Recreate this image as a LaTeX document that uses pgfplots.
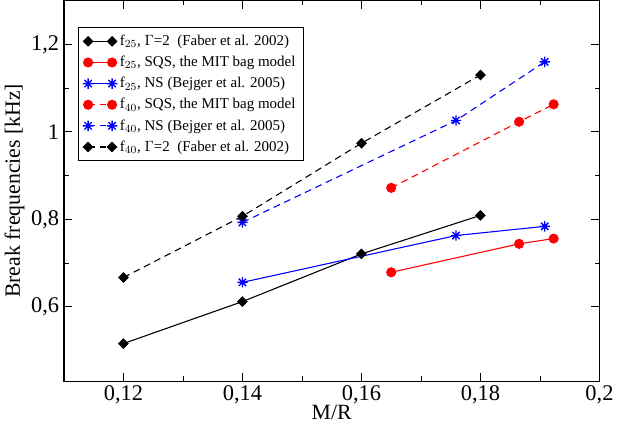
\documentclass[border=0pt]{standalone}
\usepackage{fontspec}
\setmainfont{Liberation Serif}
\usepackage{pgfplots}
\pgfplotsset{compat=1.18}

% eight-armed star for the NS series
\pgfdeclareplotmark{star8}{%
  \pgfpathmoveto{\pgfqpoint{0pt}{\pgfplotmarksize}}%
  \pgfpathlineto{\pgfqpoint{0pt}{-\pgfplotmarksize}}%
  \pgfpathmoveto{\pgfqpoint{\pgfplotmarksize}{0pt}}%
  \pgfpathlineto{\pgfqpoint{-\pgfplotmarksize}{0pt}}%
  \pgfpathmoveto{\pgfqpoint{0.707\pgfplotmarksize}{0.707\pgfplotmarksize}}%
  \pgfpathlineto{\pgfqpoint{-0.707\pgfplotmarksize}{-0.707\pgfplotmarksize}}%
  \pgfpathmoveto{\pgfqpoint{-0.707\pgfplotmarksize}{0.707\pgfplotmarksize}}%
  \pgfpathlineto{\pgfqpoint{0.707\pgfplotmarksize}{-0.707\pgfplotmarksize}}%
  \pgfusepathqstroke}

\begin{document}
\begin{tikzpicture}
  \begin{axis}[
      scale only axis,
      width=394pt, height=280pt,
      xmin=0.11, xmax=0.2,
      ymin=0.43, ymax=1.3,
      xtick={0.12,0.14,0.16,0.18,0.2},
      ytick={0.6,0.8,1,1.2},
      minor tick num=1,
      tick align=inside,
      major tick length=6pt, minor tick length=3.5pt,
      xticklabel style={/pgf/number format/.cd, use comma, fixed, precision=2},
      yticklabel style={/pgf/number format/.cd, use comma, fixed, precision=1},
      /pgf/number format/assume math mode=true,
      tick label style={font=\fontsize{16.5}{18}\selectfont},
      xlabel={M/R},
      ylabel={Break frequencies [kHz]},
      label style={font=\fontsize{16}{18}\selectfont},
      xlabel style={yshift=6pt},
      ylabel style={yshift=-2pt},
      axis line style={line width=0.9pt},
      every tick/.style={black, line width=0.6pt},
      legend cell align=left,
      legend style={at={(0.026,0.93)}, anchor=north west,
        font=\fontsize{11}{13}\selectfont, draw=black, line width=0.5pt,
        row sep=2.3pt, inner sep=3.5pt},
      legend image code/.code={\draw[#1] plot coordinates {(0cm,0cm) (0.62cm,0cm)};},
      diam/.style={mark=square*, mark size=2.4pt, mark options={rotate=45, solid}},
      circ/.style={mark=*, mark size=3.3pt, mark options={solid}},
      star/.style={mark=star8, mark size=3.8pt, mark options={solid, line width=1pt}},
      dashy/.style={dash pattern=on 5pt off 3.5pt},
    ]
    % f25, Faber
    \addplot[black, line width=0.8pt, diam] coordinates {
      (0.12,0.516) (0.14,0.612) (0.16,0.721) (0.18,0.809)};
    \addlegendentry{f$_{25}$, $\Gamma$=2\ \ (Faber et al. 2002)}
    % f25, SQS
    \addplot[red, line width=0.8pt, circ] coordinates {
      (0.165,0.679) (0.1865,0.744) (0.1923,0.756)};
    \addlegendentry{f$_{25}$, SQS, the MIT bag model}
    % f25, NS
    \addplot[blue, line width=0.8pt, star] coordinates {
      (0.14,0.656) (0.1759,0.763) (0.1908,0.784)};
    \addlegendentry{f$_{25}$, NS (Bejger et al. 2005)}
    % f40, SQS
    \addplot[red, line width=0.8pt, dashy, circ] coordinates {
      (0.165,0.872) (0.1865,1.023) (0.1923,1.063)};
    \addlegendentry{f$_{40}$, SQS, the MIT bag model}
    % f40, NS
    \addplot[blue, line width=0.8pt, dashy, star] coordinates {
      (0.14,0.793) (0.1759,1.026) (0.1908,1.160)};
    \addlegendentry{f$_{40}$, NS (Bejger et al. 2005)}
    % f40, Faber
    \addplot[black, line width=0.8pt, dashy, diam] coordinates {
      (0.12,0.667) (0.14,0.807) (0.16,0.974) (0.18,1.130)};
    \addlegendentry{f$_{40}$, $\Gamma$=2\ \ (Faber et al. 2002)}
  \end{axis}
\end{tikzpicture}
\end{document}
